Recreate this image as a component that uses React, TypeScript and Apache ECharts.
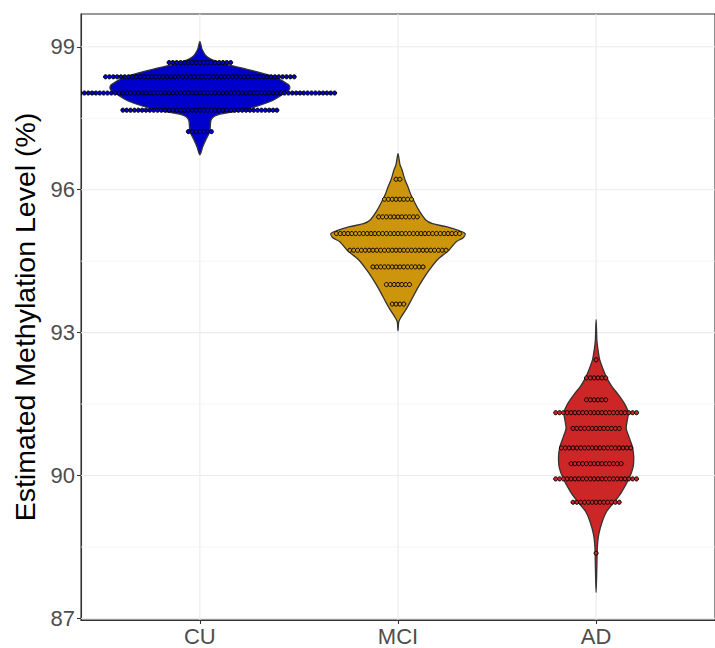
import React, { useEffect, useRef } from "react";
import * as echarts from "echarts";

// ---------- data ----------
const categories = ["CU", "MCI", "AD"];
const groupColors = ["#0000CD", "#CD950C", "#CD2626"];
const yTicks = [87, 90, 93, 96, 99];
const yMinorLines = [88.5, 91.5, 94.5, 97.5];
const yAxisMin = 86.968;
const yAxisMax = 99.689;
const xAxisMin = 0.4;
const xAxisMax = 3.6;

// violin outlines: methylation level (%) and half width (in category units)
const cuViolinLevel = [99.111, 98.937, 98.797, 98.671, 98.518, 98.371, 98.203, 98.119, 98.029, 97.852, 97.672, 97.573, 97.469, 97.223, 97.049, 96.908, 96.734];
const cuViolinHalfWidth = [0, 0.012, 0.035, 0.1, 0.249, 0.374, 0.448, 0.453, 0.428, 0.356, 0.217, 0.09, 0.057, 0.05, 0.03, 0.015, 0];

const mciViolinLevel = [96.755, 96.524, 96.42, 96.21, 96.063, 95.895, 95.727, 95.539, 95.371, 95.287, 95.224, 95.14, 95.077, 94.993, 94.909, 94.741, 94.531, 94.322, 94.112, 93.902, 93.629, 93.483, 93.336, 93.231, 93.042];
const mciViolinHalfWidth = [0, 0.01, 0.02, 0.035, 0.05, 0.065, 0.085, 0.11, 0.139, 0.174, 0.244, 0.309, 0.339, 0.329, 0.294, 0.259, 0.199, 0.159, 0.125, 0.095, 0.06, 0.04, 0.017, 0.004, 0];

const adViolinLevel = [93.273, 92.832, 92.685, 92.434, 92.266, 92.056, 91.867, 91.699, 91.49, 91.322, 91.154, 90.986, 90.797, 90.587, 90.378, 90.168, 89.937, 89.664, 89.455, 89.245, 89.035, 88.762, 88.49, 88.133, 87.546];
const adViolinHalfWidth = [0, 0.004, 0.008, 0.018, 0.032, 0.053, 0.08, 0.112, 0.146, 0.162, 0.157, 0.152, 0.167, 0.184, 0.19, 0.186, 0.166, 0.13, 0.094, 0.053, 0.031, 0.013, 0.006, 0.004, 0];

// dot-plot bins: level (%) and number of samples in each bin
const cuDotLevel = [98.67, 98.37, 98.03, 97.67, 97.22];
const cuDotCount = [17, 50, 71, 41, 7];
const mciDotLevel = [96.22, 95.8, 95.43, 95.08, 94.73, 94.38, 94.01, 93.6];
const mciDotCount = [2, 8, 11, 33, 26, 14, 7, 4];
const adDotLevel = [92.43, 92.05, 91.59, 91.32, 90.99, 90.58, 90.25, 89.93, 89.44, 88.37];
const adDotCount = [1, 6, 6, 22, 13, 19, 14, 22, 13, 1];

const yTitle = "Estimated Methylation Level (%)";

// ---------- styling ----------
const FONT = "'Liberation Sans', Arial, Helvetica, sans-serif";
const DOT_STEP = 3.85;
const DOT_R = 2.05;

export default function App() {
  const ref = useRef<HTMLDivElement>(null);

  useEffect(() => {
    if (!ref.current) return;
    const chart = echarts.init(ref.current, undefined, { renderer: "svg" });

    const violinLevels = [cuViolinLevel, mciViolinLevel, adViolinLevel];
    const violinWidths = [cuViolinHalfWidth, mciViolinHalfWidth, adViolinHalfWidth];
    const dotLevels = [cuDotLevel, mciDotLevel, adDotLevel];
    const dotCounts = [cuDotCount, mciDotCount, adDotCount];

    const dotData: number[][] = [];
    dotLevels.forEach((lv, g) => {
      lv.forEach((v, i) => dotData.push([g + 1, v, dotCounts[g][i], g]));
    });

    const catPositions = categories.map((_, i) => i + 1);

    // grid lines: [orientation (0 = horizontal, 1 = vertical), value, major(1)/minor(0)]
    const gridData: number[][] = [
      ...yMinorLines.map((v) => [0, v, 0]),
      ...yTicks.map((v) => [0, v, 1]),
      ...catPositions.map((v) => [1, v, 1]),
    ];

    const option: any = {
      animation: false,
      backgroundColor: "#ffffff",
      grid: {
        left: 81,
        top: 14,
        width: 642.6,
        height: 606,
        show: true,
        borderColor: "#333333",
        borderWidth: 1.1,
        backgroundColor: "#ffffff",
      },
      xAxis: {
        type: "value",
        min: xAxisMin,
        max: xAxisMax,
        axisLine: { show: true, onZero: false, lineStyle: { color: "#333333", width: 1.1 } },
        axisTick: {
          show: true,
          customValues: catPositions,
          length: 4,
          lineStyle: { color: "#333333", width: 1.1 },
        },
        axisLabel: {
          customValues: catPositions,
          formatter: (v: number) => categories[Math.round(v) - 1] ?? "",
          color: "#4D4D4D",
          fontSize: 22,
          fontFamily: FONT,
          margin: 5,
        },
        splitLine: { show: false },
      },
      yAxis: {
        type: "value",
        min: yAxisMin,
        max: yAxisMax,
        name: yTitle,
        nameLocation: "middle",
        nameRotate: 90,
        nameGap: 38,
        nameTextStyle: { fontSize: 28.5, color: "#000000", fontFamily: FONT },
        axisLine: { show: true, onZero: false, lineStyle: { color: "#333333", width: 1.1 } },
        axisTick: {
          show: true,
          customValues: yTicks,
          length: 4,
          lineStyle: { color: "#333333", width: 1.1 },
        },
        axisLabel: {
          customValues: yTicks,
          color: "#4D4D4D",
          fontSize: 22,
          fontFamily: FONT,
          margin: 6,
        },
        splitLine: { show: false },
      },
      series: [
        {
          type: "custom",
          z: 1,
          silent: true,
          clip: true,
          data: gridData,
          renderItem: (params: any, api: any) => {
            const orient = api.value(0);
            const v = api.value(1);
            const major = api.value(2) === 1;
            const p1 = orient === 0 ? api.coord([xAxisMin, v]) : api.coord([v, yAxisMin]);
            const p2 = orient === 0 ? api.coord([xAxisMax, v]) : api.coord([v, yAxisMax]);
            return {
              type: "line",
              shape: { x1: p1[0], y1: p1[1], x2: p2[0], y2: p2[1] },
              style: { stroke: major ? "#EBEBEB" : "#F2F2F2", lineWidth: major ? 1.1 : 0.8 },
            };
          },
        },
        {
          type: "custom",
          z: 2,
          silent: true,
          clip: true,
          data: categories.map((_, i) => [i + 1, i]),
          renderItem: (params: any, api: any) => {
            const g = api.value(1);
            const cx = api.value(0);
            const lv = violinLevels[g];
            const hw = violinWidths[g];
            const pts: number[][] = [];
            for (let i = 0; i < lv.length; i++) pts.push(api.coord([cx + hw[i], lv[i]]));
            for (let i = lv.length - 2; i >= 1; i--) pts.push(api.coord([cx - hw[i], lv[i]]));
            return {
              type: "polygon",
              shape: { points: pts, smooth: 0.3 },
              style: { fill: groupColors[g], stroke: "#333333", lineWidth: 1.3 },
            };
          },
        },
        {
          type: "custom",
          z: 3,
          silent: true,
          clip: true,
          data: dotData,
          renderItem: (params: any, api: any) => {
            const c = api.coord([api.value(0), api.value(1)]);
            const n = api.value(2);
            const g = api.value(3);
            const children: any[] = [];
            for (let i = 0; i < n; i++) {
              children.push({
                type: "circle",
                shape: { cx: c[0] + (i - (n - 1) / 2) * DOT_STEP, cy: c[1], r: DOT_R },
                style: { fill: groupColors[g], stroke: "#000000", lineWidth: 1 },
              });
            }
            return { type: "group", children };
          },
        },
      ],
    };

    chart.setOption(option);
    return () => chart.dispose();
  }, []);

  return (
    <div
      ref={ref}
      style={{ position: "fixed", left: 0, top: 0, width: 715, height: 648, background: "#ffffff" }}
    />
  );
}
